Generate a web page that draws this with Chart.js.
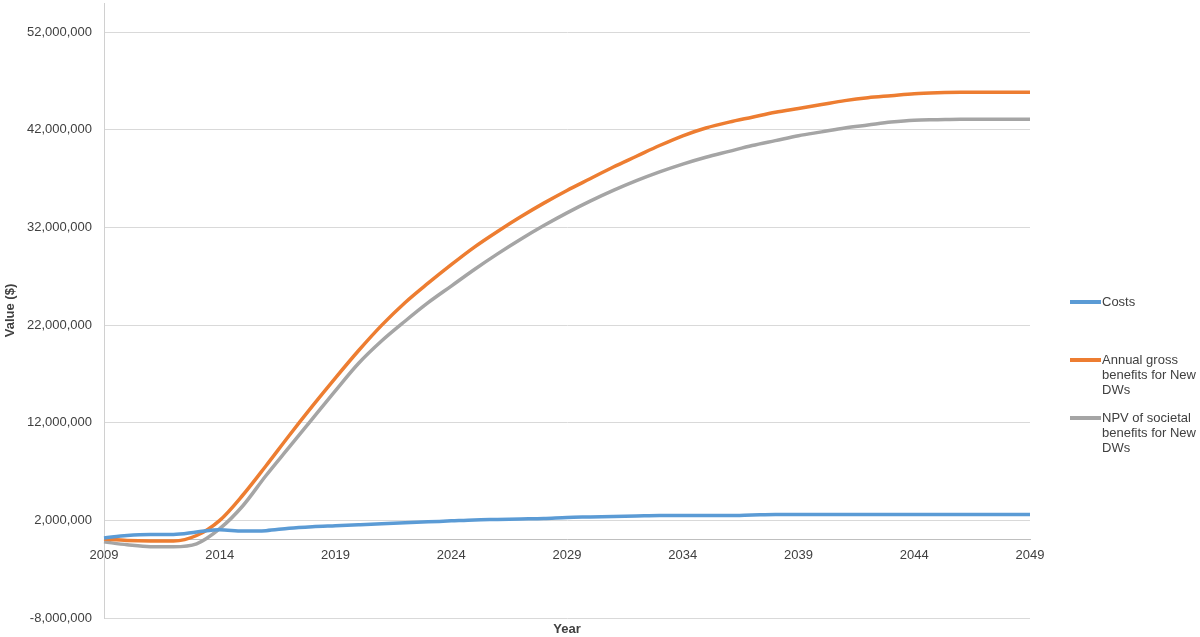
<!DOCTYPE html>
<html>
<head>
<meta charset="utf-8">
<script src="https://cdn.jsdelivr.net/npm/chart.js@4"></script>
<style>
    body { margin: 0; background: #fff; }
    #wrap { position: relative; width: 1200px; height: 637px; }
    #legend { position: absolute; left: 0; top: 0; font-family: "Liberation Sans", Arial, sans-serif; font-size: 13px; color: #404040; }
    .item { position: absolute; left: 1070px; width: 130px; }
    .swatch { position: absolute; left: 0; top: 6px; width: 31px; height: 4px; }
    .txt { position: absolute; left: 32px; top: 0; width: 100px; line-height: 15px; }
</style>
</head>
<body>
<div id="wrap">
    <canvas id="canvas-1" width="1200" height="637"></canvas>
    <div id="legend"></div>
</div>
<script>
var years = ['2009', '2010', '2011', '2012', '2013', '2014', '2015', '2016', '2017', '2018',
    '2019', '2020', '2021', '2022', '2023', '2024', '2025', '2026', '2027', '2028',
    '2029', '2030', '2031', '2032', '2033', '2034', '2035', '2036', '2037', '2038',
    '2039', '2040', '2041', '2042', '2043', '2044', '2045', '2046', '2047', '2048', '2049'];

var costs = [200000, 450000, 550000, 550000, 800000, 1050000, 900000, 950000, 1200000, 1350000,
    1450000, 1550000, 1650000, 1750000, 1850000, 1950000, 2050000, 2100000, 2150000, 2200000,
    2300000, 2350000, 2400000, 2450000, 2500000, 2500000, 2500000, 2500000, 2550000, 2600000,
    2600000, 2600000, 2600000, 2600000, 2600000, 2600000, 2600000, 2600000, 2600000, 2600000, 2600000];

var grossBenefits = [100000, -50000, -100000, -100000, 450000, 2000000, 4600000, 7600000, 10700000, 13700000,
    16600000, 19400000, 22000000, 24300000, 26300000, 28200000, 30000000, 31600000, 33100000, 34500000,
    35800000, 37000000, 38200000, 39300000, 40400000, 41400000, 42200000, 42800000, 43300000, 43800000,
    44200000, 44600000, 45000000, 45300000, 45500000, 45700000, 45800000, 45850000, 45850000, 45850000, 45850000];

var npvBenefits = [-200000, -500000, -700000, -700000, -400000, 1150000, 3500000, 6600000, 9500000, 12400000,
    15300000, 18100000, 20400000, 22400000, 24300000, 26000000, 27700000, 29300000, 30800000, 32200000,
    33500000, 34700000, 35800000, 36800000, 37700000, 38500000, 39200000, 39800000, 40400000, 40900000,
    41400000, 41800000, 42200000, 42500000, 42800000, 43000000, 43050000, 43100000, 43100000, 43100000, 43100000];

var seriesNames = ['Costs', 'Annual gross benefits for New DWs', 'NPV of societal benefits for New DWs'];
var seriesColors = ['#5B9BD5', '#ED7D31', '#A5A5A5'];

var yTicks = [-8000000, 2000000, 12000000, 22000000, 32000000, 42000000, 52000000];

var font = { family: '"Liberation Sans", Arial, sans-serif', size: 13 };

function makeSet(i, values) {
    return {
        label: seriesNames[i],
        data: values,
        borderColor: seriesColors[i],
        backgroundColor: seriesColors[i],
        borderWidth: 3.5,
        pointRadius: 0,
        cubicInterpolationMode: 'monotone',
        fill: false
    };
}

var lineChart = new Chart(document.getElementById('canvas-1'), {
    type: 'line',
    data: {
        labels: years,
        datasets: [makeSet(0, costs), makeSet(1, grossBenefits), makeSet(2, npvBenefits)]
    },
    options: {
        responsive: false,
        animation: false,
        layout: { padding: { top: 3, right: 170, left: 0, bottom: 0 } },
        plugins: {
            legend: { display: false },
            tooltip: { enabled: false }
        },
        scales: {
            x: {
                type: 'category',
                position: { y: 0 },
                grid: { drawOnChartArea: false, drawTicks: false },
                border: { display: true, color: '#bfbfbf', width: 1 },
                afterFit: function(scale) { scale.height = 0; },
                ticks: {
                    autoSkip: false,
                    maxRotation: 0,
                    padding: 8,
                    color: '#404040',
                    font: font,
                    callback: function(value, index) {
                        return index % 5 === 0 ? years[index] : '';
                    }
                }
            },
            xTitle: {
                type: 'category',
                position: 'bottom',
                grid: { display: false, drawTicks: false },
                border: { display: false },
                ticks: { display: false },
                title: {
                    display: true,
                    text: 'Year',
                    color: '#404040',
                    font: { family: font.family, size: 13, weight: 'bold' },
                    padding: { top: 1, bottom: 0 }
                },
                afterFit: function(scale) { scale.height = 19; }
            },
            y: {
                min: -8000000,
                max: 55000000,
                grid: { color: '#d9d9d9', drawTicks: false },
                border: { display: true, color: '#d0d0d0' },
                afterBuildTicks: function(scale) {
                    scale.ticks = yTicks.map(function(v) { return { value: v }; });
                },
                afterFit: function(scale) {
                    scale.width = 104;
                    scale.paddingTop = 0;
                    scale.paddingBottom = 0;
                },
                ticks: {
                    padding: 12,
                    color: '#404040',
                    font: font,
                    callback: function(value) { return value.toLocaleString('en-US'); }
                },
                title: {
                    display: true,
                    text: 'Value ($)',
                    color: '#404040',
                    font: { family: font.family, size: 13, weight: 'bold' },
                    padding: { top: 3, bottom: 0 }
                }
            }
        }
    }
});

// legend in html so the long labels can wrap like the original
var legendTops = [294, 352, 410];
var legend = document.getElementById('legend');
lineChart.data.datasets.forEach(function(ds, i) {
    var item = document.createElement('div');
    item.className = 'item';
    item.style.top = legendTops[i] + 'px';
    var sw = document.createElement('span');
    sw.className = 'swatch';
    sw.style.background = ds.borderColor;
    var tx = document.createElement('span');
    tx.className = 'txt';
    tx.textContent = ds.label;
    item.appendChild(sw);
    item.appendChild(tx);
    legend.appendChild(item);
});
</script>
</body>
</html>
